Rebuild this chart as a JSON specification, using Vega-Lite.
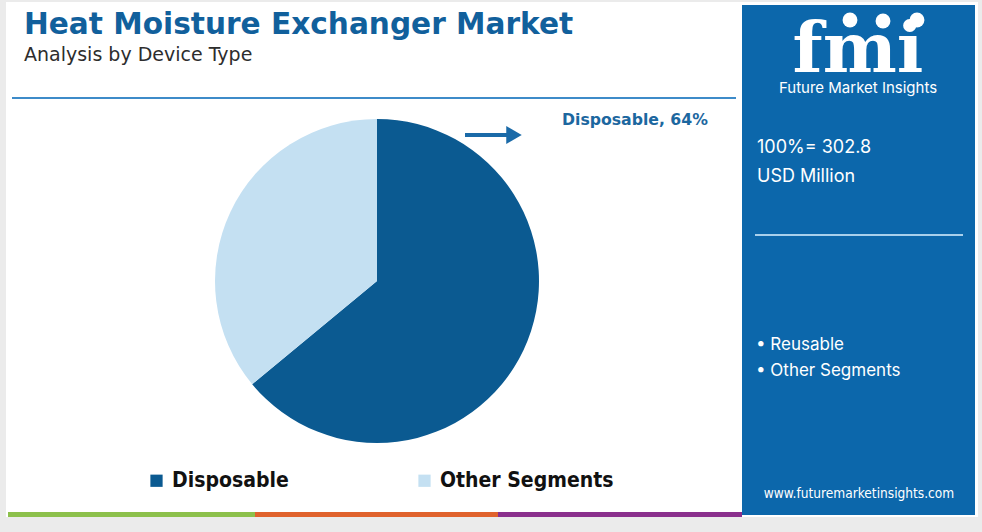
{
  "$schema": "https://vega.github.io/schema/vega-lite/v6.json",
  "width": 982,
  "height": 532,
  "autosize": {"type": "fit", "contains": "padding"},
  "padding": 0,
  "background": "#ebebeb",
  "config": {"view": {"stroke": null}},
  "layer": [
    {"data": {"values": [{}]}, "mark": {"type": "rect", "x": 6, "x2": 978, "y": 2, "y2": 517, "fill": "#ffffff"}},
    {"data": {"values": [{}]}, "mark": {"type": "rect", "x": 8, "x2": 255, "y": 512, "y2": 517, "fill": "#8cc04b"}},
    {"data": {"values": [{}]}, "mark": {"type": "rect", "x": 255, "x2": 498, "y": 512, "y2": 517, "fill": "#e0622c"}},
    {"data": {"values": [{}]}, "mark": {"type": "rect", "x": 498, "x2": 742, "y": 512, "y2": 517, "fill": "#8a2f8c"}},
    {"data": {"values": [{}]}, "mark": {"type": "rect", "x": 742, "x2": 975, "y": 5, "y2": 515, "fill": "#0c67ab"}},
    {"data": {"values": [{}]}, "mark": {"type": "rect", "x": 12, "x2": 736, "y": 97, "y2": 99, "fill": "#3d8bc9"}},
    {"data": {"values": [{}]}, "mark": {"type": "rect", "x": 755, "x2": 963, "y": 234, "y2": 236, "fill": "#a9d0ec"}},
    {"data": {"values": [{"t": "Heat Moisture Exchanger Market"}]}, "mark": {"type": "text", "x": 24, "y": 25, "align": "left", "baseline": "middle", "font": "DejaVu Sans", "fontWeight": "bold", "fontSize": 29.6, "fill": "#11609c"}, "encoding": {"text": {"field": "t"}}},
    {"data": {"values": [{"t": "Analysis by Device Type"}]}, "mark": {"type": "text", "x": 24, "y": 55, "align": "left", "baseline": "middle", "font": "DejaVu Sans", "fontSize": 19, "fill": "#2d2d2d"}, "encoding": {"text": {"field": "t"}}},
    {"data": {"values": [{"t": "fmi"}]}, "mark": {"type": "text", "x": 858, "y": 72, "align": "center", "baseline": "alphabetic", "font": "DejaVu Serif", "fontWeight": "bold", "fontSize": 70, "fill": "#ffffff"}, "encoding": {"text": {"field": "t"}}},
    {"data": {"values": [{}]}, "mark": {"type": "point", "x": 850, "y": 20, "shape": "circle", "size": 220, "filled": true, "fill": "#ffffff", "opacity": 1}},
    {"data": {"values": [{}]}, "mark": {"type": "point", "x": 883, "y": 21, "shape": "circle", "size": 220, "filled": true, "fill": "#ffffff", "opacity": 1}},
    {"data": {"values": [{}]}, "mark": {"type": "point", "x": 917, "y": 20, "shape": "circle", "size": 220, "filled": true, "fill": "#ffffff", "opacity": 1}},
    {"data": {"values": [{"t": "Future Market Insights"}]}, "mark": {"type": "text", "x": 858, "y": 88, "align": "center", "baseline": "middle", "font": "Inter", "fontSize": 15, "fill": "#ffffff"}, "encoding": {"text": {"field": "t"}}},
    {"data": {"values": [{"t": "100%= 302.8"}]}, "mark": {"type": "text", "x": 757, "y": 148, "align": "left", "baseline": "middle", "font": "Inter", "fontSize": 18, "fill": "#ffffff"}, "encoding": {"text": {"field": "t"}}},
    {"data": {"values": [{"t": "USD Million"}]}, "mark": {"type": "text", "x": 757, "y": 177, "align": "left", "baseline": "middle", "font": "Inter", "fontSize": 18, "fill": "#ffffff"}, "encoding": {"text": {"field": "t"}}},
    {"data": {"values": [{"t": "• Reusable"}]}, "mark": {"type": "text", "x": 756, "y": 345, "align": "left", "baseline": "middle", "font": "Inter", "fontSize": 17, "fill": "#ffffff"}, "encoding": {"text": {"field": "t"}}},
    {"data": {"values": [{"t": "• Other Segments"}]}, "mark": {"type": "text", "x": 756, "y": 371, "align": "left", "baseline": "middle", "font": "Inter", "fontSize": 17, "fill": "#ffffff"}, "encoding": {"text": {"field": "t"}}},
    {"data": {"values": [{"t": "www.futuremarketinsights.com"}]}, "mark": {"type": "text", "x": 859, "y": 494, "align": "center", "baseline": "middle", "font": "DejaVu Sans Condensed", "fontSize": 13.6, "fill": "#ffffff"}, "encoding": {"text": {"field": "t"}}},
    {"data": {"values": [{"t": "Disposable, 64%"}]}, "mark": {"type": "text", "x": 562, "y": 120, "align": "left", "baseline": "middle", "font": "DejaVu Sans", "fontWeight": "bold", "fontSize": 15.7, "fill": "#1c679f"}, "encoding": {"text": {"field": "t"}}},
    {"data": {"values": [{}]}, "mark": {"type": "rect", "x": 465, "x2": 510, "y": 133, "y2": 137, "fill": "#1a6aa8"}},
    {"data": {"values": [{}]}, "mark": {"type": "point", "x": 514, "y": 135, "shape": "triangle-right", "size": 320, "filled": true, "fill": "#1a6aa8", "opacity": 1}},
    {
      "data": {"values": [
        {"segment": "Disposable", "share": 64},
        {"segment": "Other Segments", "share": 36}
      ]},
      "mark": {"type": "arc", "radius": 162, "x": 377, "y": 281},
      "encoding": {
        "theta": {"field": "share", "type": "quantitative", "stack": true},
        "order": {"field": "segment"},
        "color": {
          "field": "segment", "type": "nominal",
          "scale": {"domain": ["Disposable", "Other Segments"], "range": ["#0b5a91", "#c4e0f2"]},
          "legend": {
            "title": null, "orient": "none", "legendX": 146, "legendY": 470, "direction": "horizontal",
            "symbolType": "square", "symbolSize": 150, "symbolStrokeWidth": 0, "symbolOpacity": 1,
            "labelFont": "DejaVu Sans Condensed", "labelFontWeight": "bold", "labelFontSize": 21, "labelColor": "#111111",
            "labelOffset": 5, "columnPadding": 125, "labelLimit": 300
          }
        }
      }
    }
  ]
}
